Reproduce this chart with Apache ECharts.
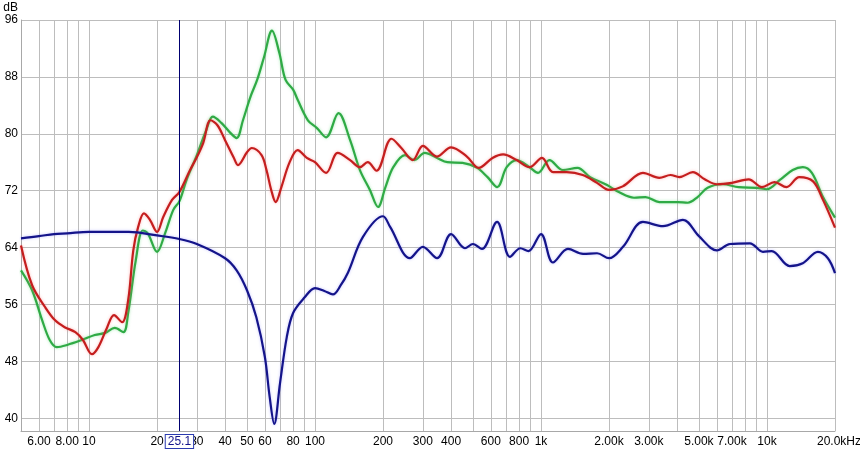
<!DOCTYPE html>
<html>
<head>
<meta charset="utf-8">
<script src="https://cdn.jsdelivr.net/npm/echarts@6/dist/echarts.min.js"></script>
<style>html,body{margin:0;padding:0;background:#fff}#c{width:860px;height:451px}</style>
</head>
<body>
<div id="c"></div>
<script>
// ---- data (frequency in Hz, level in dB) ----
const blueFreq = [5,6,7,8,10,15,20,25.1,30,40,45,50,55,60,63,66,70,75,80,90,100,110,120,130,140,163,200,215,263,300,347,400,461,500,548,639,729,810,880,1000,1130,1316,1535,1770,2000,2306,2826,3467,4248,5000,6000,6855,8400,9600,10500,12600,14400,16800,18600,20000];
const blueDb   = [65.3,65.6,65.9,66.0,66.2,66.2,65.7,65.2,64.5,62.5,60.8,58.0,54.2,48.6,43.0,39.2,44.9,51.4,54.8,57.0,58.3,57.9,57.4,58.7,60.5,65.5,68.4,66.9,62.5,64.1,62.5,65.9,63.9,64.5,63.8,67.6,62.7,63.9,63.5,65.9,61.9,63.8,63.1,63.2,62.5,64.1,67.6,67.0,67.9,65.6,63.6,64.5,64.6,63.4,63.5,61.4,61.8,63.4,62.5,60.4];

const redFreq = [5,5.6,6.4,7.06,7.8,8.7,9.4,10.3,11,12,12.9,14,14.9,15.7,16.5,17.5,18.6,20,21.3,23.3,25.1,28,30,32,34.5,37,40,43.6,45.6,50,52.5,58,61,64,67,71,77,83.8,92,100,112,126,143,158,171,187,218,241,271,300,346,400,470,530,610,680,780,890,1010,1130,1300,1530,1770,2000,2300,2826,3340,3740,4090,4700,5300,6000,7000,8300,9500,10800,12200,13900,16000,17700,20000];
const redDb   = [64.3,58.7,55.6,53.8,52.8,52.1,51.0,49.0,50.0,52.7,54.5,53.5,56.6,63.6,66.9,68.8,67.9,66.2,68.3,70.7,71.8,74.9,76.7,78.7,81.9,81.2,79.1,76.7,75.6,77.4,78.0,77.0,74.9,72.1,70.4,72.5,75.9,77.7,76.6,76.0,74.5,77.3,76.3,75.3,76.0,74.8,79.3,78.0,76.3,78.3,76.8,78.1,76.8,75.2,76.6,77.1,76.3,75.3,76.6,74.6,74.6,74.2,73.1,72.1,72.6,74.5,73.8,74.2,73.9,74.6,73.6,72.9,73.1,73.6,72.5,73.2,72.5,73.9,73.3,70.7,66.8];

const greenFreq = [5,5.6,6.2,6.7,7.2,8,9.3,10.6,11.8,13,14.2,14.9,16.1,17.3,18.2,20,21.7,23.6,25.1,27,30,33,35.3,38.6,42,45,48,51.8,55.5,59.5,64.5,69.5,74,80,84,93,102,112,127,143,158,175,190,205,222,250,275,306,347,385,450,522,580,640,705,780,890,970,1090,1250,1450,1650,1960,2210,2580,2900,3340,4030,4460,4930,5460,6350,7500,9000,10000,11400,13000,14400,15800,17700,20000];
const greenDb   = [60.8,58.0,53.8,51.0,50.0,50.3,51.0,51.7,52.0,52.7,52.1,54.8,62.2,66.4,66.0,63.4,66.0,69.3,70.5,73.5,77.0,80.5,82.4,81.5,80.2,79.4,81.9,85.2,87.6,90.8,94.5,91.4,87.6,86.2,84.7,81.9,80.8,79.5,82.9,79.1,74.9,72.1,69.7,72.5,75.3,77.0,76.3,77.3,76.6,76.0,75.9,75.2,73.9,72.5,75.3,76.3,75.3,74.5,76.3,74.9,75.2,73.9,72.8,71.8,71.0,71.1,70.4,70.4,70.3,71.1,72.4,72.9,72.5,72.4,72.2,73.5,74.9,75.3,74.5,71.1,68.2];

const gridFreqs  = [6,7,8,9,10,20,30,40,50,60,70,80,90,100,200,300,400,500,600,700,800,900,1000,2000,3000,4000,5000,6000,7000,8000,9000,10000,20000];
const labelFreqs = [6,8,10,20,30,40,50,60,80,100,200,300,400,600,800,1000,2000,3000,5000,7000,10000,20000];
const labelTexts = ['6.00','8.00','10','20','30','40','50','60','80','100','200','300','400','600','800','1k','2.00k','3.00k','5.00k','7.00k','10k','20.0k'];
const yTicks = [40,48,56,64,72,80,88,96];
const cursorFreq = 25.1;
const cursorText = '25.1';

// ---- build chart ----
const L = Math.log10;
const pairs = (f, d) => f.map((v, i) => [L(v), d[i]]);
const labelMap = {};
labelFreqs.forEach((f, i) => { labelMap[Math.round(f)] = labelTexts[i]; });

const font = 'Arial, "Liberation Sans", sans-serif';
const chart = echarts.init(document.getElementById('c'), null, {renderer: 'canvas'});

function lineSeries(name, data, color, glow) {
  return {
    name, type: 'line', data, smooth: 0.35, symbol: 'none', animation: false,
    lineStyle: {color, width: 2.2, shadowColor: glow, shadowBlur: 3},
    z: 3
  };
}

chart.setOption({
  animation: false,
  grid: {left: 21, right: 25, top: 20, bottom: 20, containLabel: false, outerBoundsMode: 'none'},
  xAxis: {
    type: 'value', min: L(5), max: L(20000),
    axisLine: {show: true, lineStyle: {color: '#a8a8a8', width: 1}},
    axisTick: {show: false, customValues: gridFreqs.map(L)},
    splitLine: {show: true, lineStyle: {color: '#bdbdbd', width: 1}},
    axisLabel: {
      customValues: labelFreqs.map(L),
      margin: 5, color: '#000', fontFamily: font, fontSize: 12,
      showMinLabel: true, showMaxLabel: true, hideOverlap: false,
      formatter: v => {
        const t = labelMap[Math.round(Math.pow(10, v))] || '';
        return t === '20.0k' ? '{e|20.0kHz}' : t;
      },
      rich: {e: {padding: [0, 0, 0, 8], color: '#000', fontFamily: font, fontSize: 12}}
    }
  },
  yAxis: {
    type: 'value', min: 38.2, max: 96,
    name: 'dB', nameLocation: 'end', nameGap: 4,
    nameTextStyle: {color: '#000', fontFamily: font, fontSize: 12, align: 'right', padding: [0, 3, 0, 0]},
    axisLine: {show: true, lineStyle: {color: '#a8a8a8', width: 1}},
    axisTick: {show: false, customValues: yTicks},
    splitLine: {show: true, lineStyle: {color: '#bdbdbd', width: 1}},
    axisLabel: {customValues: yTicks, margin: 3, color: '#000', fontFamily: font, fontSize: 12}
  },
  series: [
    lineSeries('green', pairs(greenFreq, greenDb), '#2faa45', 'rgba(80,220,110,0.5)'),
    lineSeries('red', pairs(redFreq, redDb), '#c41e1e', 'rgba(255,110,110,0.5)'),
    Object.assign(lineSeries('blue', pairs(blueFreq, blueDb), '#14148a', 'rgba(110,110,255,0.4)'), {
      markLine: {
        silent: true, symbol: 'none', animation: false,
        lineStyle: {color: '#000070', width: 1, type: 'solid'},
        label: {
          show: true, position: 'start', distance: 4,
          formatter: cursorText, color: '#14148a', fontFamily: font, fontSize: 12,
          backgroundColor: '#fff', borderColor: '#2b3bb0', borderWidth: 1, padding: [1, 2, 0, 2]
        },
        data: [{xAxis: L(cursorFreq)}]
      }
    })
  ]
});
</script>
</body>
</html>
